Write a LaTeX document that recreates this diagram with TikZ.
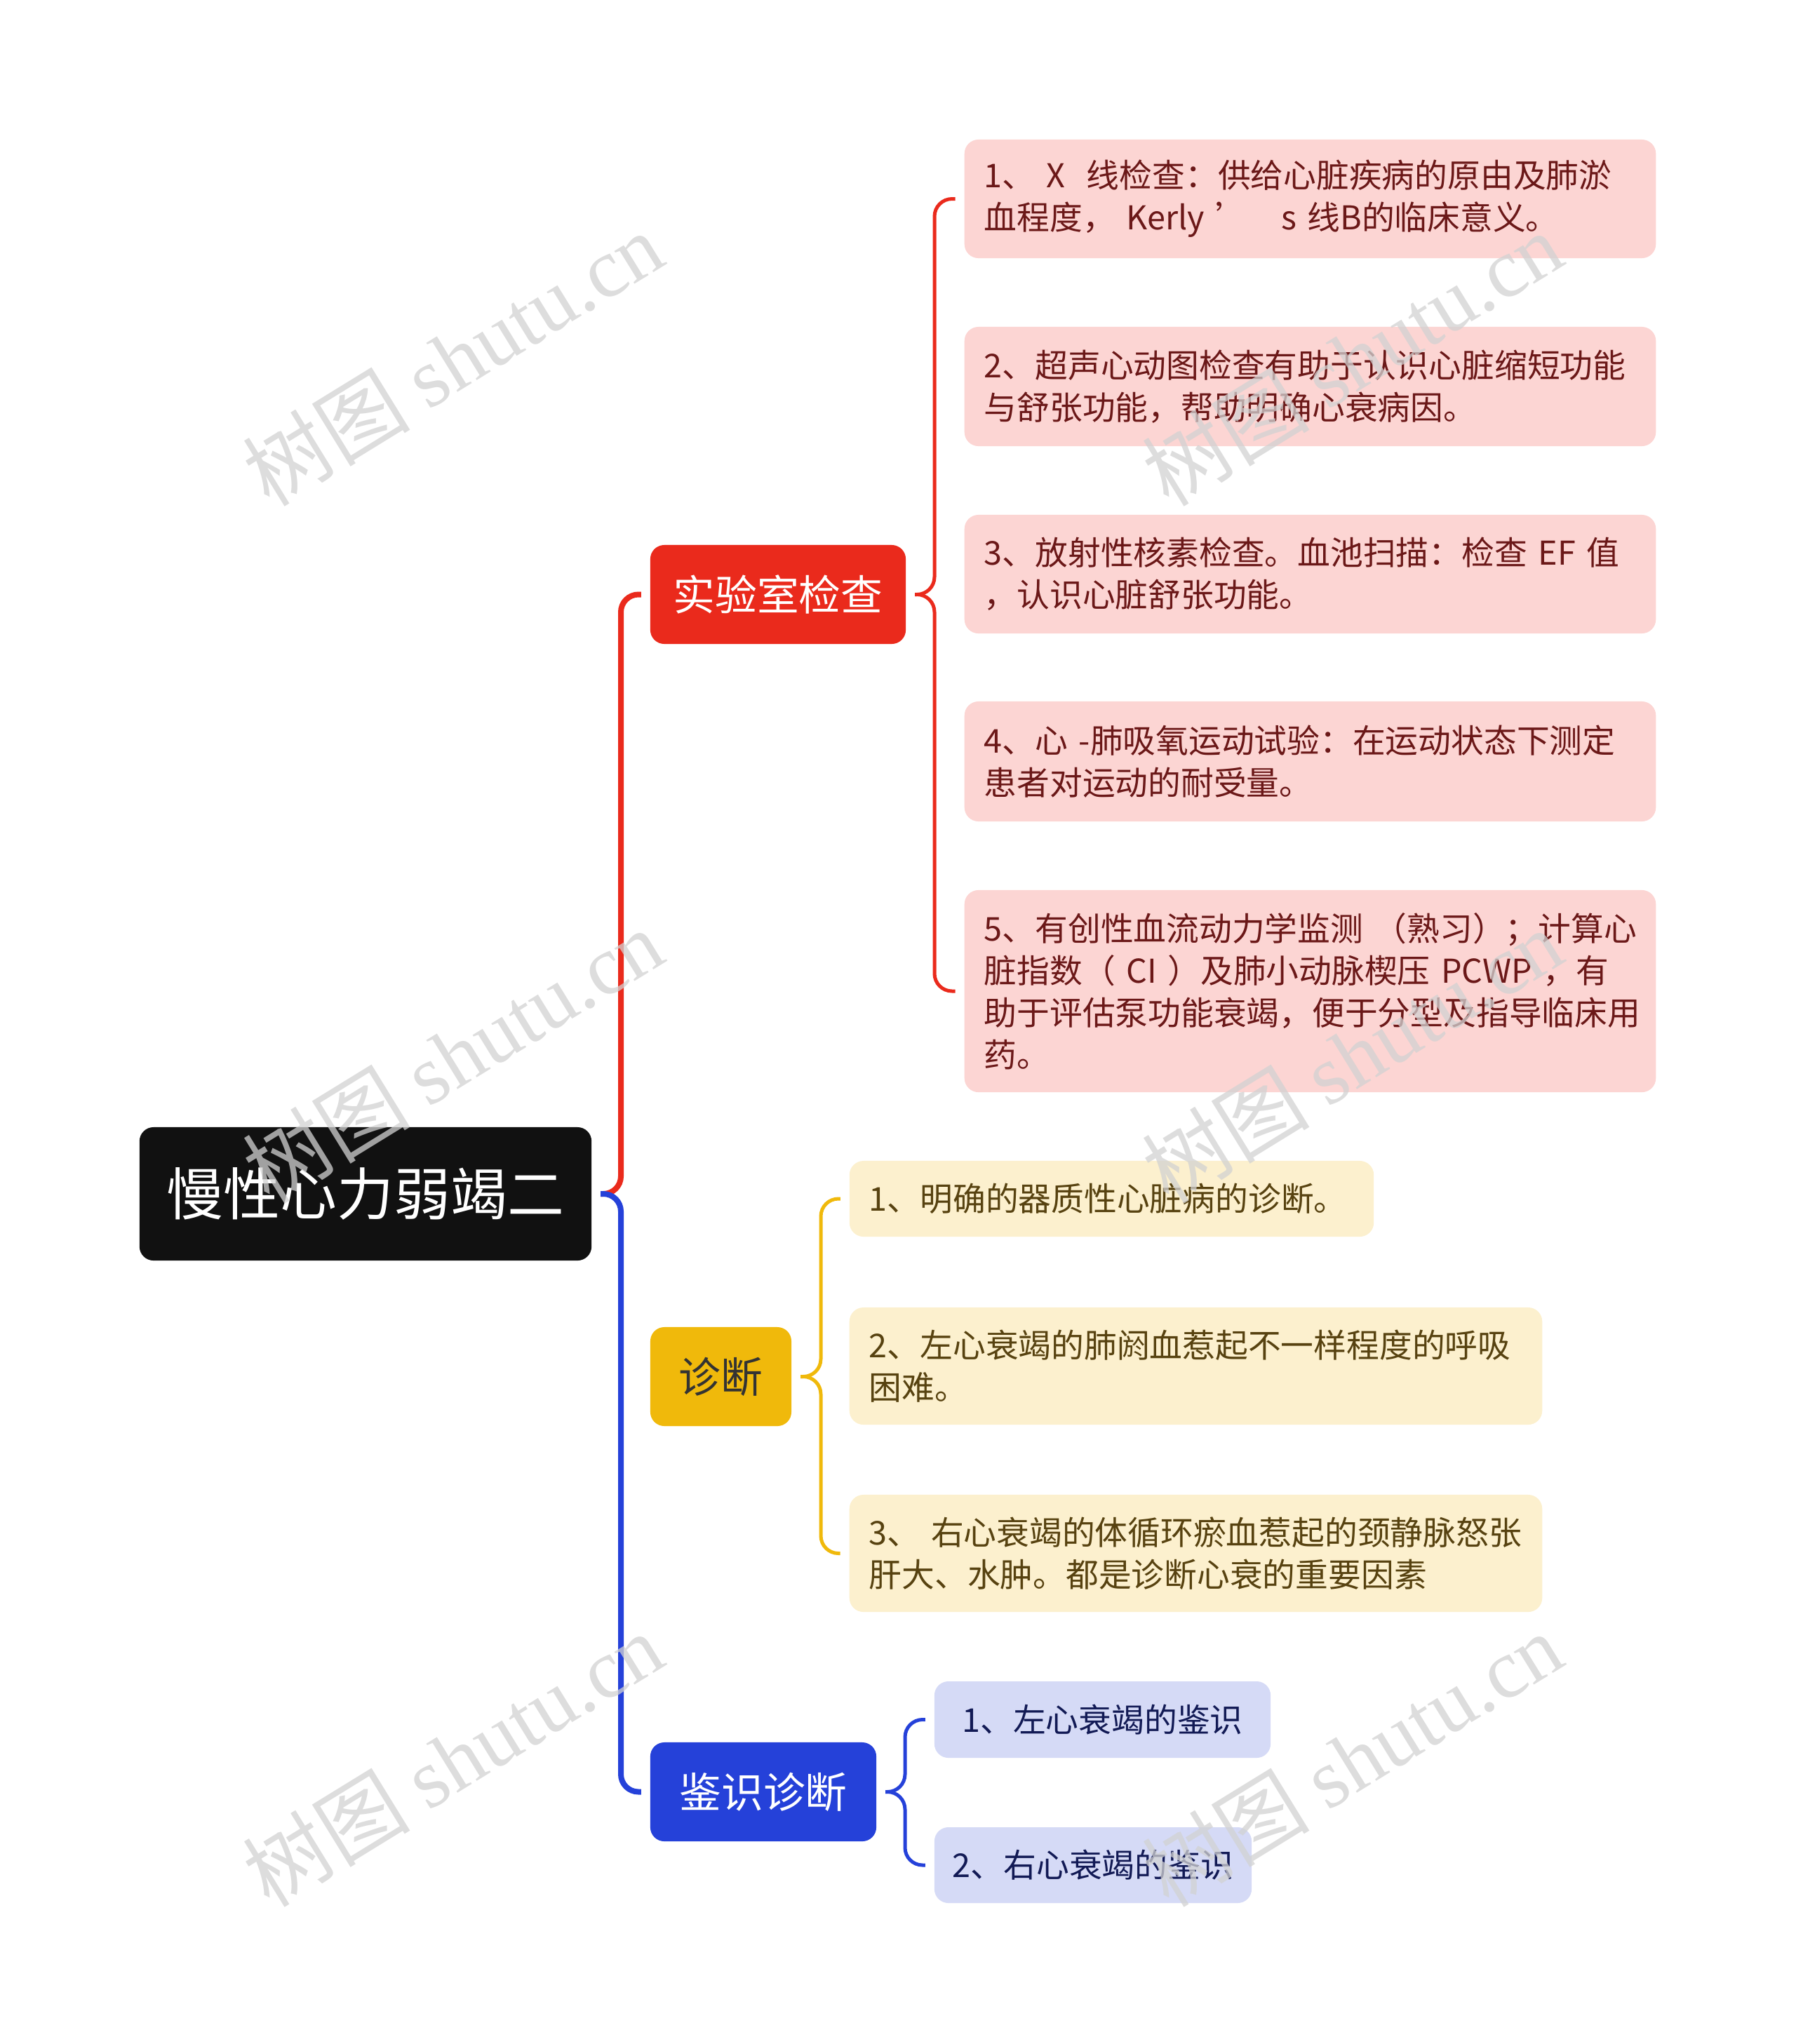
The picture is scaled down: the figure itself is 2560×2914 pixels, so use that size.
\documentclass[tikz,border=0pt]{standalone}
\usepackage{fontspec}
\setmainfont{Noto Sans CJK SC}
\newfontfamily\wmserif{Liberation Serif}
\definecolor{rootbg}{HTML}{111111}
\definecolor{labred}{HTML}{EA2A1C}
\definecolor{diagyel}{HTML}{F0B90B}
\definecolor{diffblue}{HTML}{2541D9}
\definecolor{labfill}{HTML}{FCD5D3}
\definecolor{labtext}{HTML}{6B1818}
\definecolor{diagfill}{HTML}{FCF0CE}
\definecolor{diagtext}{HTML}{574210}
\definecolor{difffill}{HTML}{D5DAF6}
\definecolor{difftext}{HTML}{121A55}
\begin{document}
\begin{tikzpicture}[x=0.01cm,y=-0.01cm,
  box/.style={rounded corners=0.2cm,outer xsep=0.13cm,inner sep=0pt},
  leaf/.style={box,font=\fontsize{13.3}{17.07}\selectfont,align=left,text width=#1,inner xsep=0.28cm},
  branch/.style={box,font=\fontsize{17}{20}\selectfont,minimum height=1.41cm},
  conn/.style={rounded corners=0.25cm,line width=0.05cm},
  wm/.style={rotate=31.6,text=gray!35,font=\fontsize{34}{40}\selectfont,opacity=0.75}]
\useasboundingbox (0,0) rectangle (2560,2914);
\node[box,fill=rootbg,text=white,minimum width=6.44cm,minimum height=1.9cm,font=\fontsize{23}{28}\selectfont] (root) at (521,1702) {慢性心力弱竭二};
\node[branch,fill=labred,text=white,minimum width=3.64cm] (lab) at (1109,847.5) {实验室检查};
\node[branch,fill=diagyel,text=black!80,minimum width=2.01cm] (diag) at (1027.5,1962.5) {诊断};
\node[branch,fill=diffblue,text=white,minimum width=3.22cm] (diff) at (1088,2554.5) {鉴识诊断};
\begin{scope}[fill=labfill,text=labtext]
\node[leaf=9.29cm,fill,minimum height=1.69cm] (lab1) at (1867.5,283.5) {1、~X~~线检查：供给心脏疾病的原由及肺淤\\血程度，~Kerly~’~~~s~线B的临床意义。};
\node[leaf=9.29cm,fill,minimum height=1.70cm] (lab2) at (1867.5,551) {2、超声心动图检查有助于认识心脏缩短功能\\与舒张功能，帮助明确心衰病因。};
\node[leaf=9.29cm,fill,minimum height=1.69cm] (lab3) at (1867.5,818.5) {3、放射性核素检查。血池扫描：检查~EF~值\\，认识心脏舒张功能。};
\node[leaf=9.29cm,fill,minimum height=1.71cm] (lab4) at (1867.5,1085.5) {4、心~-肺吸氧运动试验：在运动状态下测定\\患者对运动的耐受量。};
\node[leaf=9.29cm,fill,minimum height=2.88cm] (lab5) at (1867.5,1413) {5、有创性血流动力学监测~（熟习）；计算心\\脏指数（~CI~）及肺小动脉楔压~PCWP~，有\\助于评估泵功能衰竭，便于分型及指导临床用\\药。};
\end{scope}
\begin{scope}[fill=diagfill,text=diagtext]
\node[leaf=6.91cm,fill,minimum height=1.08cm] (diag1) at (1584.5,1709) {1、明确的器质性心脏病的诊断。};
\node[leaf=9.31cm,fill,minimum height=1.67cm] (diag2) at (1704.5,1947.5) {2、左心衰竭的肺阏血惹起不一样程度的呼吸\\困难。};
\node[leaf=9.31cm,fill,minimum height=1.67cm] (diag3) at (1704.5,2214.5) {3、~右心衰竭的体循环瘀血惹起的颈静脉怒张\\肝大、水肿。都是诊断心衰的重要因素};
\end{scope}
\begin{scope}[fill=difffill,text=difftext]
\node[box,fill,font=\fontsize{13.3}{17.07}\selectfont,minimum width=4.79cm,minimum height=1.09cm] (diff1) at (1571.5,2451.5) {1、左心衰竭的鉴识};
\node[box,fill,font=\fontsize{13.3}{17.07}\selectfont,minimum width=4.52cm,minimum height=1.08cm] (diff2) at (1558,2659) {2、右心衰竭的鉴识};
\end{scope}
\coordinate (rootspine) at (885,0);
\coordinate (labspine) at (1332,0);
\coordinate (diagspine) at (1170,0);
\coordinate (diffspine) at (1290,0);
\draw[conn,labred,line width=0.08cm] (root.east) -- (root.east -| rootspine) -- (rootspine |- lab.west) -- (lab.west);
\draw[conn,diffblue,line width=0.08cm] (root.east) -- (root.east -| rootspine) -- (rootspine |- diff.west) -- (diff.west);
\draw[conn,labred] (lab.east) -- (lab.east -| labspine) -- (labspine |- lab1.west) -- (lab1.west);
\draw[conn,labred] (lab.east) -- (lab.east -| labspine) -- (labspine |- lab5.west) -- (lab5.west);
\draw[conn,diagyel] (diag.east) -- (diag.east -| diagspine) -- (diagspine |- diag1.west) -- (diag1.west);
\draw[conn,diagyel] (diag.east) -- (diag.east -| diagspine) -- (diagspine |- diag3.west) -- (diag3.west);
\draw[conn,diffblue] (diff.east) -- (diff.east -| diffspine) -- (diffspine |- diff1.west) -- (diff1.west);
\draw[conn,diffblue] (diff.east) -- (diff.east -| diffspine) -- (diffspine |- diff2.west) -- (diff2.west);
\node[wm] (wm1) at (645,511) {树图 {\wmserif shutu.cn}};
\node[wm] (wm2) at (1927,511) {树图 {\wmserif shutu.cn}};
\node[wm] (wm3) at (645,1505) {树图 {\wmserif shutu.cn}};
\node[wm] (wm4) at (1927,1505) {树图 {\wmserif shutu.cn}};
\node[wm] (wm5) at (645,2508) {树图 {\wmserif shutu.cn}};
\node[wm] (wm6) at (1927,2508) {树图 {\wmserif shutu.cn}};
\end{tikzpicture}
\end{document}
